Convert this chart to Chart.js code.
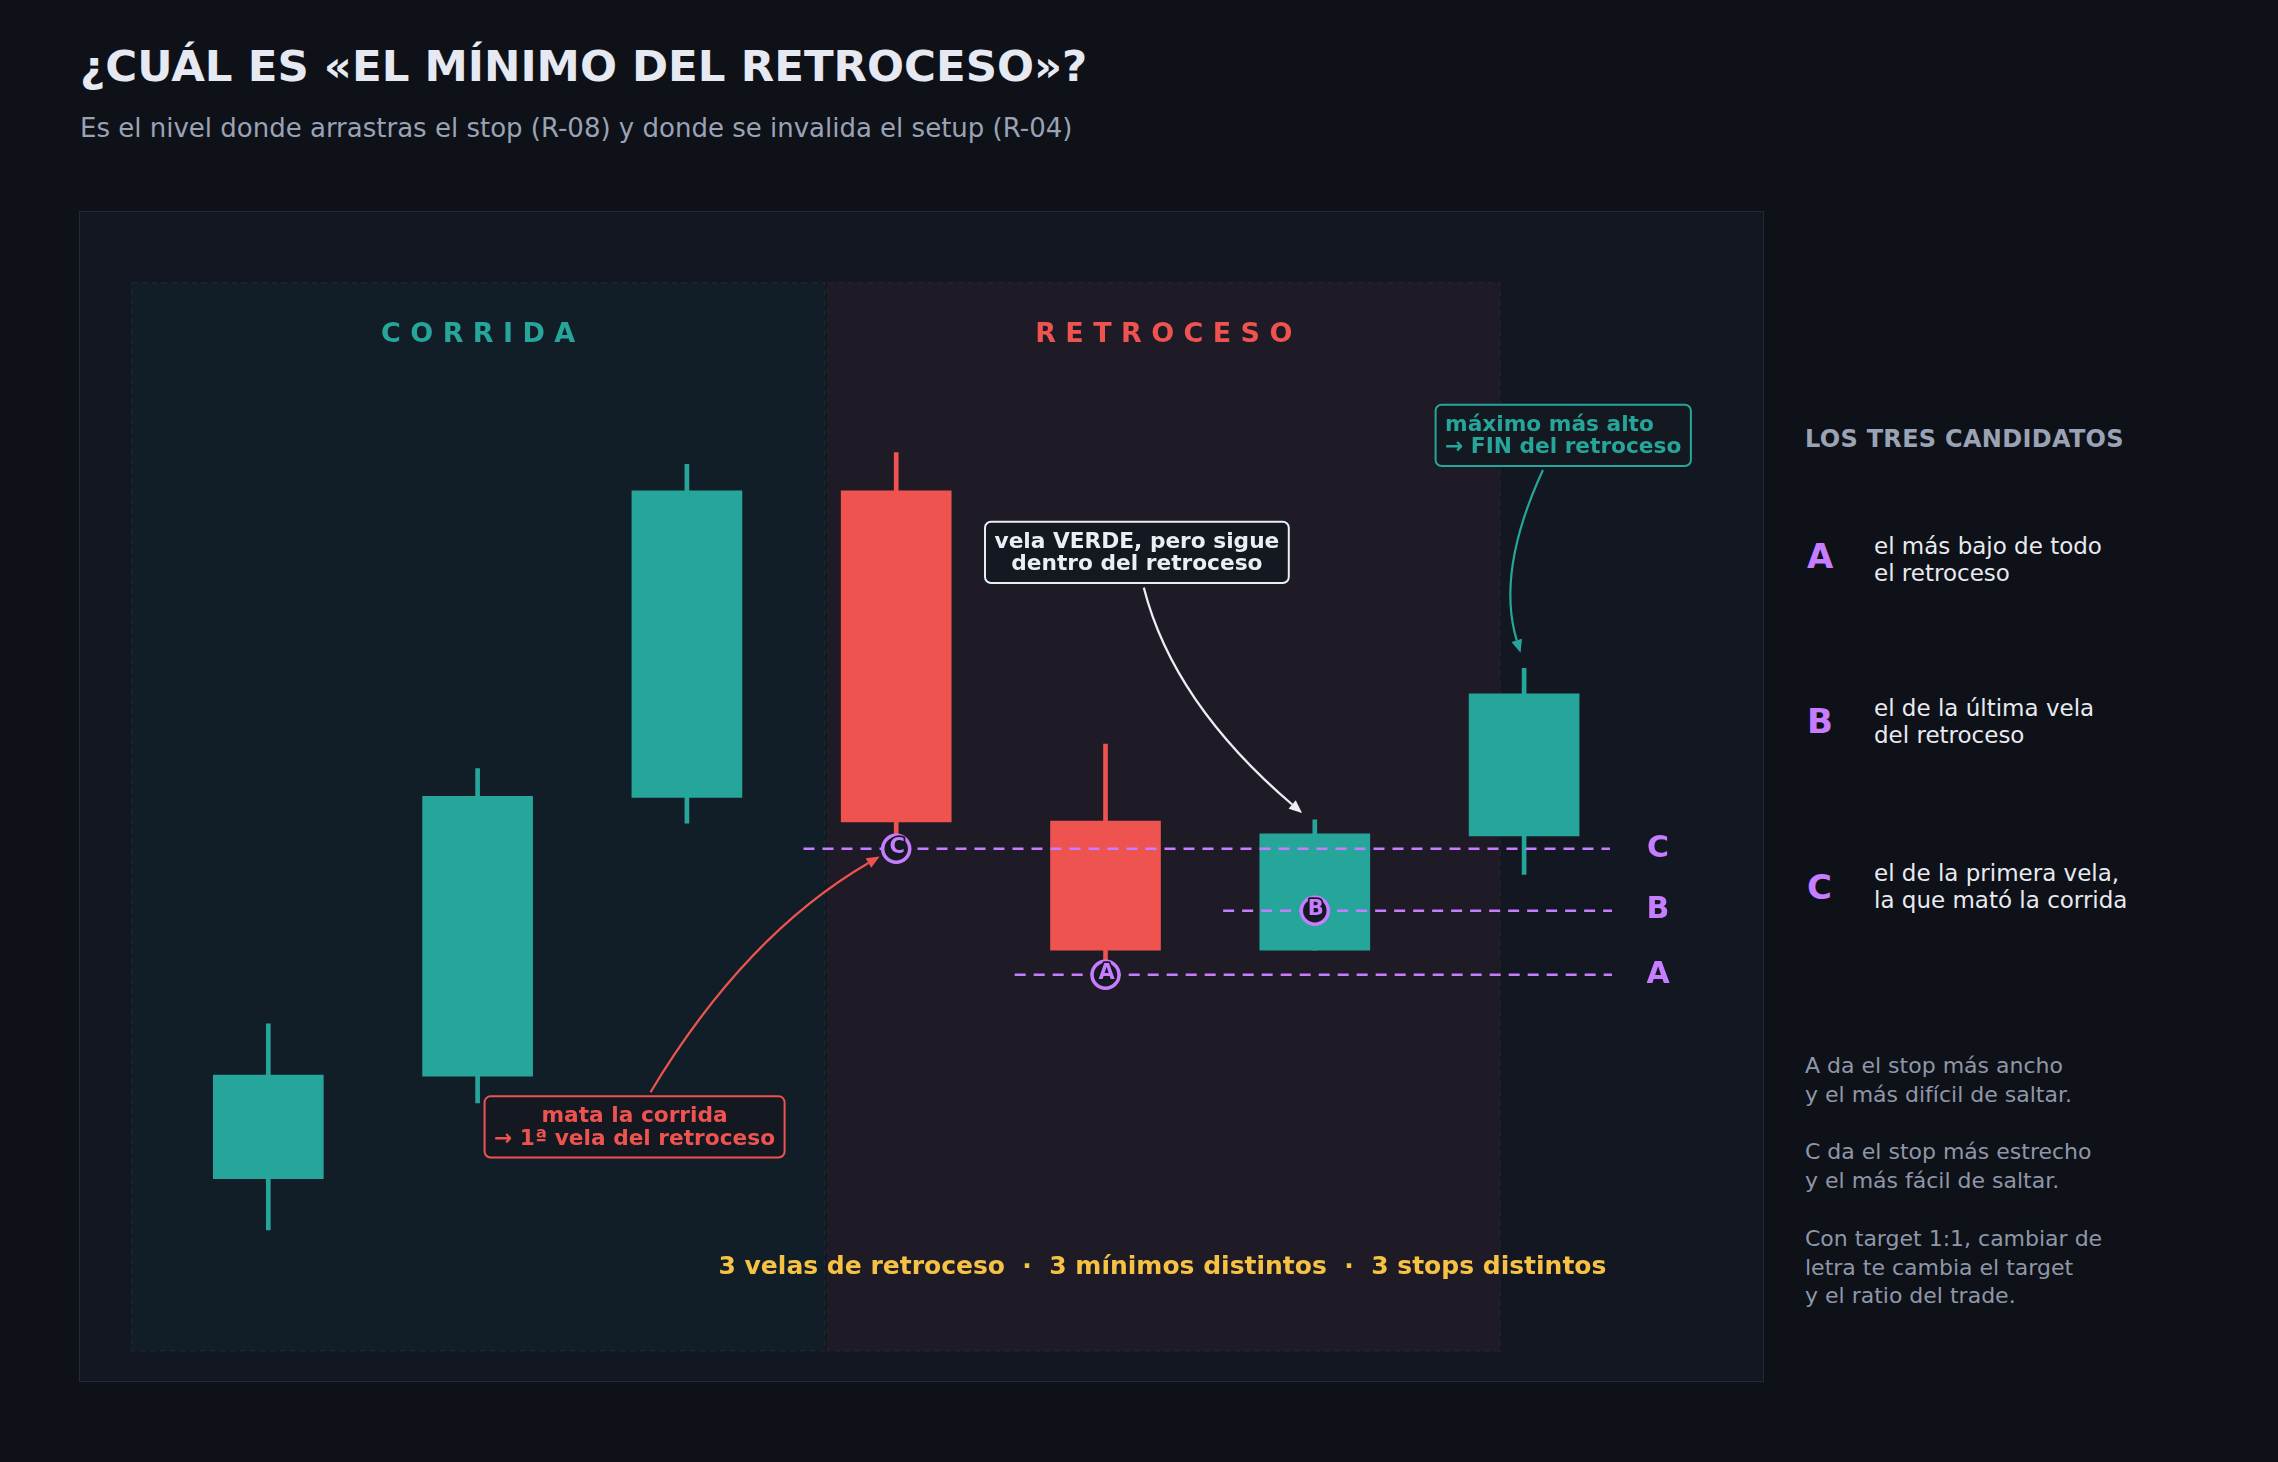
<!DOCTYPE html>
<html lang="es">
<head>
<meta charset="utf-8">
<title>¿Cuál es «el mínimo del retroceso»?</title>
<script src="https://cdn.jsdelivr.net/npm/chart.js@4.4.1/dist/chart.umd.min.js"></script>
<style>
    html, body { margin: 0; padding: 0; background: #0e1118; }
    body { width: 2278px; height: 1462px; position: relative; overflow: hidden; font-family: "DejaVu Sans", sans-serif; }
    .txt { position: absolute; white-space: nowrap; }
    #titulo { left: 80px; top: 44px; font-size: 43.5px; line-height: 44px; font-weight: bold; color: #e6e9f2; }
    #subtitulo { left: 80px; top: 115px; font-size: 26px; line-height: 26px; color: #9aa3b5; }
    #panel { position: absolute; left: 79px; top: 211px; width: 1683px; height: 1169px; border: 1px solid #222937; background: #131722; }
    #panel canvas { position: absolute; left: 0; top: 0; }
    #cabecera { left: 1805px; top: 427px; font-size: 24px; line-height: 24px; font-weight: bold; color: #9aa3b5; letter-spacing: 0.3px; }
    .letra { left: 1807px; font-size: 34px; line-height: 34px; font-weight: bold; color: #c77dff; }
    .desc { left: 1874px; font-size: 23px; line-height: 26.5px; color: #e8eaf0; }
    #notas { left: 1805px; top: 1052px; font-size: 22px; line-height: 28.8px; color: #8e97a8; }
</style>
</head>
<body>
<div id="titulo" class="txt">¿CUÁL ES «EL MÍNIMO DEL RETROCESO»?</div>
<div id="subtitulo" class="txt">Es el nivel donde arrastras el stop (R-08) y donde se invalida el setup (R-04)</div>

<div id="panel"><canvas id="velas" width="1683" height="1169"></canvas></div>

<div id="cabecera" class="txt">LOS TRES CANDIDATOS</div>
<div class="txt letra" style="top:539px">A</div>
<div class="txt desc" style="top:533px">el más bajo de todo<br>el retroceso</div>
<div class="txt letra" style="top:704px">B</div>
<div class="txt desc" style="top:695px">el de la última vela<br>del retroceso</div>
<div class="txt letra" style="top:870px">C</div>
<div class="txt desc" style="top:860px">el de la primera vela,<br>la que mató la corrida</div>
<div id="notas" class="txt">A da el stop más ancho<br>y el más difícil de saltar.<br><br>C da el stop más estrecho<br>y el más fácil de saltar.<br><br>Con target 1:1, cambiar de<br>letra te cambia el target<br>y el ratio del trade.</div>

<script>
// velas: posición en el eje x y precios
const candleIndex = [1, 2, 3, 4, 5, 6, 7];
const candleOpen  = [16.1, 25.7, 51.8, 80.5, 49.6, 37.5, 48.2];
const candleClose = [25.8, 51.9, 80.5, 49.5, 37.5, 48.4, 61.5];
const candleHigh  = [30.6, 54.5, 83.0, 84.1, 56.8, 49.7, 63.9];
const candleLow   = [11.3, 23.2, 49.4, 47.0, 35.2, 37.5, 44.6];

// los tres candidatos a "mínimo del retroceso"
const levelNames  = ['C', 'B', 'A'];
const levelValues = [47.0, 41.2, 35.2];
const levelCandle = [4, 6, 5];
const levelFrom   = [3.557, 5.562, 4.566];
const levelTo     = [7.41, 7.42, 7.42];

// zonas
const zoneNames = ['C O R R I D A', 'R E T R O C E S O'];
const zoneFrom  = [0.347, 3.672];
const zoneTo    = [3.658, 6.885];

const GREEN = '#26a69a';
const RED = '#ef5350';
const PURPLE = '#c77dff';

function candleColor(i) {
    return candleClose[i] >= candleOpen[i] ? GREEN : RED;
}

function toPx(chart, x, y) {
    return [chart.scales.x.getPixelForValue(x), chart.scales.y.getPixelForValue(y)];
}

const zonasPlugin = {
    id: 'zonas',
    beforeDatasetsDraw(chart, args, opts) {
        let c = chart.ctx;
        zoneNames.forEach(function (name, i) {
            let [x0, y0] = toPx(chart, zoneFrom[i], opts.top);
            let [x1, y1] = toPx(chart, zoneTo[i], opts.bottom);
            c.save();
            c.fillStyle = opts.fills[i];
            c.fillRect(x0, y0, x1 - x0, y1 - y0);
            c.setLineDash([6, 4]);
            c.lineWidth = 1.5;
            c.strokeStyle = opts.edges[i];
            c.strokeRect(x0, y0, x1 - x0, y1 - y0);
            c.restore();
        });
    },
    afterDatasetsDraw(chart, args, opts) {
        let c = chart.ctx;
        c.save();
        c.font = 'bold 27px "DejaVu Sans"';
        c.textAlign = 'center';
        c.textBaseline = 'middle';
        zoneNames.forEach(function (name, i) {
            let [x, y] = toPx(chart, (zoneFrom[i] + zoneTo[i]) / 2, opts.labelY);
            c.fillStyle = opts.labelColors[i];
            c.fillText(name, x, y);
        });
        c.restore();
    }
};

function drawArrow(c, chart, pts, color) {
    let p = pts.map(function (q) { return toPx(chart, q[0], q[1]); });
    let ang = Math.atan2(p[2][1] - p[1][1], p[2][0] - p[1][0]);
    let len = 13, half = 5.5;
    let bx = p[2][0] - len * Math.cos(ang), by = p[2][1] - len * Math.sin(ang);
    c.strokeStyle = color;
    c.fillStyle = color;
    c.lineWidth = 2.2;
    c.beginPath();
    c.moveTo(p[0][0], p[0][1]);
    c.quadraticCurveTo(p[1][0], p[1][1], bx, by);
    c.stroke();
    c.beginPath();
    c.moveTo(p[2][0], p[2][1]);
    c.lineTo(bx + half * Math.sin(ang), by - half * Math.cos(ang));
    c.lineTo(bx - half * Math.sin(ang), by + half * Math.cos(ang));
    c.closePath();
    c.fill();
}

function drawNote(c, chart, n) {
    let lh = 22.6;
    c.font = 'bold 21.7px "DejaVu Sans"';
    let w = Math.max.apply(null, n.lines.map(function (l) { return c.measureText(l).width; })) + 19;
    let h = n.lines.length * lh + 16;
    let [cx, cy] = toPx(chart, n.x, n.y);
    c.beginPath();
    c.roundRect(cx - w / 2, cy - h / 2, w, h, 6);
    c.fillStyle = '#141821';
    c.fill();
    c.lineWidth = 2;
    c.strokeStyle = n.color;
    c.stroke();
    c.fillStyle = n.color;
    c.textBaseline = 'middle';
    c.textAlign = n.align;
    let tx = n.align === 'left' ? cx - w / 2 + 9.5 : cx;
    n.lines.forEach(function (l, i) {
        c.fillText(l, tx, cy + 1 - (n.lines.length - 1) * lh / 2 + i * lh);
    });
    drawArrow(c, chart, n.arrow, n.color);
}

const notasPlugin = {
    id: 'notas',
    afterDatasetsDraw(chart, args, opts) {
        let c = chart.ctx;
        c.save();
        // letras dentro de los círculos
        c.font = 'bold 21px "DejaVu Sans"';
        c.textAlign = 'center';
        c.textBaseline = 'middle';
        c.lineJoin = 'round';
        levelNames.forEach(function (name, i) {
            let [x, y] = toPx(chart, levelCandle[i], levelValues[i]);
            c.lineWidth = 3.5;
            c.strokeStyle = '#141821';
            c.strokeText(name, x + 1, y - 1);
            c.fillStyle = PURPLE;
            c.fillText(name, x + 1, y - 1);
        });
        // letras a la derecha de cada nivel
        c.font = 'bold 30px "DejaVu Sans"';
        levelNames.forEach(function (name, i) {
            let [x, y] = toPx(chart, opts.letterX, levelValues[i]);
            c.fillStyle = PURPLE;
            c.fillText(name, x, y);
        });
        // cajas con flecha
        opts.items.forEach(function (n) { drawNote(c, chart, n); });
        // texto inferior
        let [bx, by] = toPx(chart, opts.footer.x, opts.footer.y);
        c.font = 'bold 25px "DejaVu Sans"';
        c.textAlign = 'center';
        c.textBaseline = 'middle';
        c.fillStyle = '#f6c244';
        c.fillText(opts.footer.text, bx, by);
        c.restore();
    }
};

const wickData = candleIndex.map(function (x, i) { return {x: x, y: [candleLow[i], candleHigh[i]]}; });
const bodyData = candleIndex.map(function (x, i) { return {x: x, y: [candleOpen[i], candleClose[i]]}; });
const colors = candleIndex.map(function (x, i) { return candleColor(i); });

const levelSets = levelNames.map(function (name, i) {
    return {
        type: 'line',
        label: 'nivel ' + name,
        data: [{x: levelFrom[i], y: levelValues[i]}, {x: levelTo[i], y: levelValues[i]}],
        borderColor: PURPLE,
        borderWidth: 2.5,
        borderDash: [11, 8],
        pointRadius: 0,
        fill: false,
        order: 2
    };
});

const myChart = new Chart(document.getElementById('velas'), {
    type: 'bar',
    data: {
        datasets: [{
            label: 'mecha',
            data: wickData,
            backgroundColor: colors,
            barThickness: 4,
            grouped: false,
            order: 4
        }, {
            label: 'cuerpo',
            data: bodyData,
            backgroundColor: colors,
            barThickness: 110,
            grouped: false,
            order: 3
        }].concat(levelSets).concat([{
            type: 'line',
            label: 'candidatos',
            data: levelNames.map(function (n, i) { return {x: levelCandle[i], y: levelValues[i]}; }),
            showLine: false,
            pointRadius: 13.5,
            pointBorderWidth: 3.5,
            pointBorderColor: PURPLE,
            pointBackgroundColor: '#171a24',
            order: 1
        }])
    },
    options: {
        responsive: false,
        animation: false,
        devicePixelRatio: 1,
        layout: { padding: 0, autoPadding: false },
        scales: {
            x: { type: 'linear', offset: false, min: 0.1003, max: 8.1414, display: false },
            y: { type: 'linear', min: -2.84, max: 106.62, display: false }
        },
        plugins: {
            legend: { display: false },
            tooltip: { enabled: false },
            zonas: {
                top: 100, bottom: 0, labelY: 95.1,
                fills: ['#121e27', '#1e1b26'],
                edges: ['#16292e', '#2a1f29'],
                labelColors: [GREEN, RED]
            },
            notas: {
                letterX: 7.64,
                footer: { text: '3 velas de retroceso  ·  3 mínimos distintos  ·  3 stops distintos', x: 5.272, y: 7.8 },
                items: [{
                    lines: ['mata la corrida', '→ 1ª vela del retroceso'],
                    x: 2.75, y: 20.95, color: RED, align: 'center',
                    arrow: [[2.826, 24.20], [3.278, 38.92], [3.921, 46.27]]
                }, {
                    lines: ['vela VERDE, pero sigue', 'dentro del retroceso'],
                    x: 5.15, y: 74.75, color: '#eceef4', align: 'center',
                    arrow: [[5.183, 71.45], [5.323, 60.67], [5.939, 50.35]]
                }, {
                    lines: ['máximo más alto', '→ FIN del retroceso'],
                    x: 7.187, y: 85.70, color: GREEN, align: 'left',
                    arrow: [[7.090, 82.46], [6.865, 72.93], [6.983, 65.35]]
                }]
            }
        }
    },
    plugins: [zonasPlugin, notasPlugin]
});
</script>
</body>
</html>
